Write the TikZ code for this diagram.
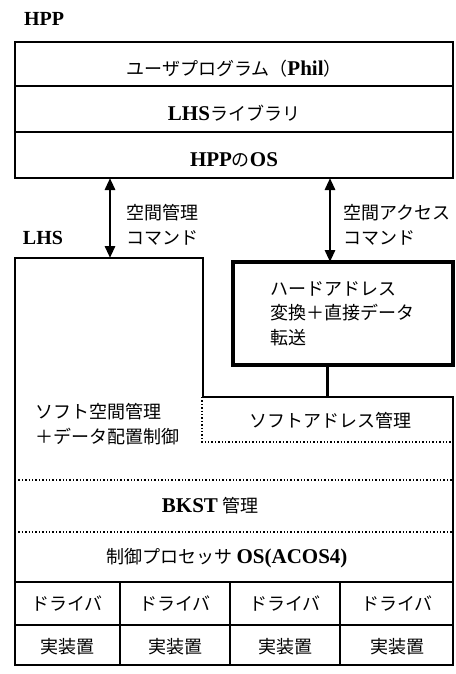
\documentclass[tikz,border=0pt]{standalone}
\usepackage{fontspec}
\setmainfont{Liberation Serif}
\newfontfamily\jpfont{Noto Sans CJK JP}
\newcommand\ltn[1]{{\rmfamily\bfseries\fontsize{21}{25}\selectfont #1}}
\usetikzlibrary{positioning,arrows.meta}

\begin{document}
\begin{tikzpicture}[x=1pt, y=-1pt,
    jptext/.style={font=\jpfont\fontsize{18}{24.5}\selectfont, inner sep=0pt},
    lbl/.style={font=\bfseries\fontsize{20}{24}\selectfont, inner sep=0pt},
    layer/.style={rectangle, draw, line width=2.3pt, minimum width=438pt, minimum height=46pt, inner sep=0pt, outer sep=0pt, text height=25pt, text depth=2pt, jptext},
    hardbox/.style={rectangle, draw, line width=3.6pt, minimum width=220pt, minimum height=103pt, outer sep=0pt, inner xsep=37pt, text width=146pt, align=left, jptext},
    lhsline/.style={line width=1.8pt},
    softline/.style={dotted, line width=1.4pt},
    cmdarrow/.style={{Triangle[length=12pt,width=10pt]}-{Triangle[length=12pt,width=10pt]}, line width=2.8pt}
]
    \useasboundingbox (0,0) rectangle (455,674);

    % HPP
    \node[lbl] (hpp) at (44,19) {HPP};
    \node[layer, anchor=north west, minimum height=44pt] (user) at (15,42) {ユーザプログラム（\ltn{Phil}）};
    \node[layer, below=0pt of user] (lib) {\ltn{LHS}ライブラリ};
    \node[layer, below=0pt of lib] (os) {\ltn{HPP}の\ltn{OS}};

    % LHS
    \node[lbl] (lhs) at (43,238) {LHS};
    \draw[lhsline] (15,665) -- (15,258) -- (203,258) -- (203,397) -- (453,397) -- (453,665) -- cycle;
    \coordinate (mgrtop) at (110,258);
    \coordinate (acctop) at (330,262);
    \coordinate (softtop) at (327,397);

    \node[hardbox, anchor=north west] (hard) at (233,262) {ハードアドレス\\変換＋直接データ\\転送};
    \node[jptext, anchor=west, align=left] (softmgr) at (35,424) {ソフト空間管理\\＋データ配置制御};
    \node[jptext] (softaddr) at (330,421) {ソフトアドレス管理};
    \draw[softline] (softtop -| 202,0) -- (202,442) -- (453,442);

    \draw[softline] (15,480) -- (453,480);
    \node[jptext] (bkst) at (210,506) {\ltn{BKST} 管理};
    \draw[softline] (15,532) -- (453,532);
    \node[jptext] (ctrlos) at (227,558) {制御プロセッサ \ltn{OS(ACOS4)}};

    % Drivers and devices
    \draw[lhsline] (15,582) -- (453,582);
    \draw[lhsline] (15,625) -- (453,625);
    \foreach \xl in {120,230,340}
        \draw[lhsline] (\xl,582) -- (\xl,665);
    \foreach \i/\xc in {1/67,2/175,3/285,4/397} {
        \node[jptext] (drv\i) at (\xc,604) {ドライバ};
        \node[jptext] (dev\i) at (\xc,647) {実装置};
    }

    % Arrows
    \draw[cmdarrow] (os.south -| mgrtop) -- (mgrtop);
    \draw[cmdarrow] (os.south -| acctop) -- (hard.north -| acctop);
    \draw[line width=3pt] (hard.south -| softtop) -- (softtop);
    \node[jptext, anchor=west, align=left] (mgrcmd) at (126,225) {空間管理\\コマンド};
    \node[jptext, anchor=west, align=left] (acccmd) at (343,225) {空間アクセス\\コマンド};
\end{tikzpicture}
\end{document}
